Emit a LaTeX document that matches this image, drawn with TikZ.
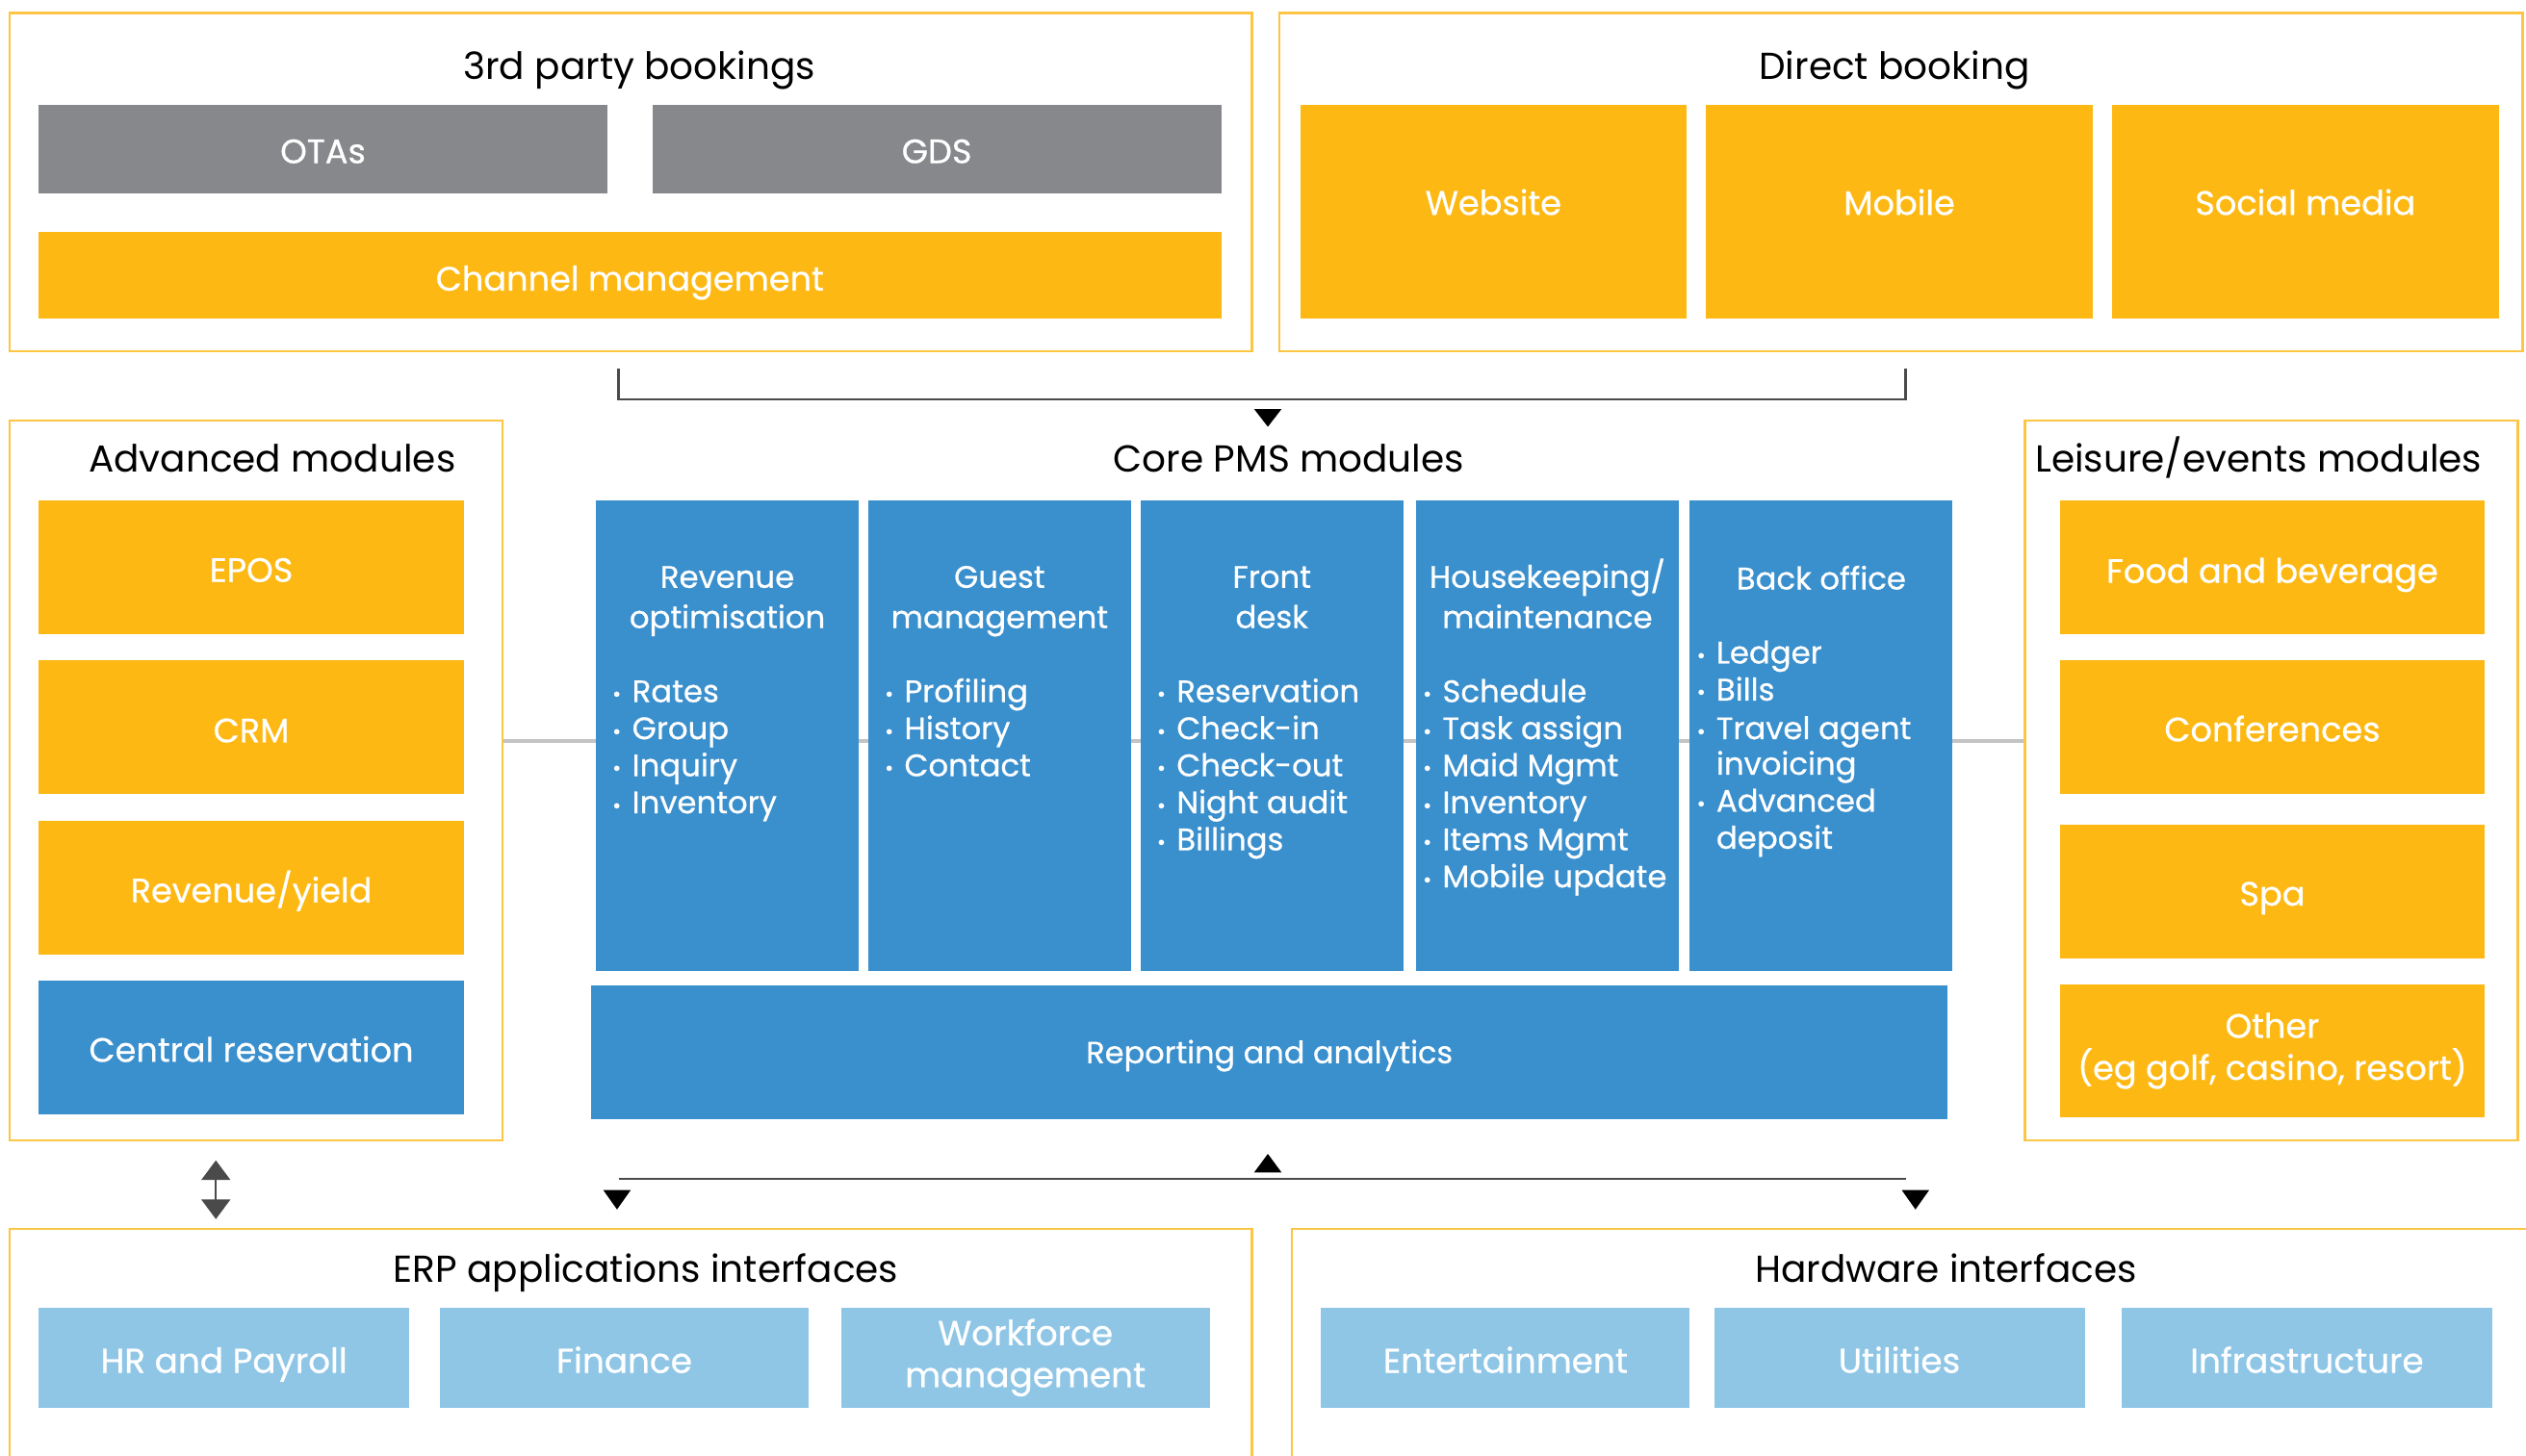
\documentclass[tikz,border=0pt]{standalone}
\usepackage{fontspec}
\setmainfont{Poppins}
\newfontfamily\medfont{Poppins}[FakeBold=0.6]
\usetikzlibrary{arrows.meta}
\definecolor{orng}{HTML}{FDB813}
\definecolor{gry}{HTML}{87888C}
\definecolor{blu}{HTML}{3A8FCD}
\definecolor{lblu}{HTML}{8FC6E6}
\definecolor{frm}{HTML}{FDC544}
\definecolor{connc}{HTML}{4A4A4A}
\definecolor{hlc}{HTML}{C4C4C4}
\newcommand\rbox[7]{%
  \pgfmathsetmacro\rw{(#5-#3)*0.016735}%
  \pgfmathsetmacro\rh{(#6-#4)*0.016735}%
  \node[#2, minimum width=\rw cm, minimum height=\rh cm] (#1) at ({(#3+#5)/2},{(#4+#6)/2}) {#7};}
\begin{document}
\begin{tikzpicture}[x=0.016735cm,y=-0.016735cm,
  grp/.style={draw=frm, line width=0.7pt, fill=white, inner sep=0pt},
  ttl/.style={font=\fontsize{11.1}{13}\selectfont, text=black, inner sep=0pt, anchor=base},
  lab/.style={inner sep=0pt, align=center, text=white, font=\medfont\fontsize{10}{12.4}\selectfont},
  sl/.style={text height=7pt, text depth=0pt},
  ob/.style={lab, sl, fill=orng},
  obm/.style={lab, fill=orng},
  gb/.style={lab, sl, fill=gry},
  bb/.style={lab, sl, fill=blu},
  lbx/.style={lab, fill=lblu, font=\medfont\fontsize{10.2}{12.4}\selectfont},
  lb/.style={lbx, sl},
  colbox/.style={fill=blu, inner sep=0pt},
  colhead/.style={text=white, inner sep=0pt, anchor=base, font=\medfont\fontsize{9.2}{12}\selectfont},
  item/.style={text=white, inner sep=0pt, anchor=base west, font=\medfont\fontsize{9.2}{12}\selectfont},
  bull/.style={text=white, inner sep=0pt, anchor=base, font=\fontsize{6.5}{6.5}\selectfont},
  conn/.style={draw=connc, line width=0.8pt},
  hl/.style={draw=hlc, line width=1pt},
  tri/.style={fill=black}
]
\useasboundingbox (0,0) rectangle (1568,904);
\clip (0,0) rectangle (1568,904);

% horizontal grey link line (behind everything)
\coordinate (hy) at (0,460);

% ---------- top groups ----------
\rbox{f3p}{grp}{6}{8}{777}{218}{}
\node[ttl] (t3p) at (397,49) {3rd party bookings};
\rbox{otas}{gb}{24}{65}{377}{120}{\raisebox{-0.7pt}{OTAs}}
\rbox{gds}{gb}{405}{65}{758}{120}{\raisebox{-0.7pt}{GDS}}
\rbox{chan}{ob}{24}{144}{758}{198}{\raisebox{-1pt}{Channel management}}

\rbox{fdir}{grp}{794}{8}{1566}{218}{}
\node[ttl] (tdir) at (1176,49) {Direct booking};
\rbox{web}{ob}{807}{65}{1047}{198}{\raisebox{2.6pt}{Website}}
\rbox{mob}{ob}{1059}{65}{1299}{198}{\raisebox{2.6pt}{Mobile}}
\rbox{soc}{ob}{1311}{65}{1551}{198}{\raisebox{2.6pt}{Social media}}

% top bracket connector
\coordinate (tl) at (384,229);
\coordinate (tr) at (1183,229);
\coordinate (tm) at (787,248);
\draw[conn] (tl) |- (tm) -| (tr);
\coordinate (ta) at (787,254);
\fill[tri, shift={(ta)}] (-8.5,0) -- (8.5,0) -- (0,11) -- cycle;

% ---------- side groups ----------
\rbox{fadv}{grp}{6}{261}{312}{708}{}
\rbox{flei}{grp}{1257}{261}{1563}{708}{}
\draw[hl] (fadv.east |- hy) -- (flei.west |- hy);

\node[ttl] (tadv) at (169,293) {Advanced modules};
\rbox{epos}{ob}{24}{311}{288}{394}{\raisebox{-0.7pt}{EPOS}}
\rbox{crm}{ob}{24}{410}{288}{493}{\raisebox{-1pt}{CRM}}
\rbox{ryield}{ob}{24}{510}{288}{593}{\raisebox{-0.7pt}{Revenue/yield}}
\rbox{cres}{bb}{24}{609}{288}{692}{\raisebox{-0.7pt}{Central reservation}}

\node[ttl] (tlei) at (1402,293) {Leisure/events modules};
\rbox{fb}{ob}{1279}{311}{1542}{394}{\raisebox{-1pt}{Food and beverage}}
\rbox{conf}{ob}{1279}{410}{1542}{493}{\raisebox{-0.7pt}{Conferences}}
\rbox{spa}{ob}{1279}{512}{1542}{595}{\raisebox{-0.7pt}{Spa}}
\rbox{oth}{obm}{1279}{611}{1542}{694}{Other\\(eg golf, casino, resort)}

% ---------- core PMS ----------
\node[ttl] (tcore) at (800,293) {Core PMS modules};
\rbox{crev}{colbox}{370}{311}{533}{603}{}
\rbox{cgst}{colbox}{539}{311}{702}{603}{}
\rbox{cfrt}{colbox}{708}{311}{871}{603}{}
\rbox{chk}{colbox}{879}{311}{1042}{603}{}
\rbox{cbo}{colbox}{1049}{311}{1212}{603}{}
\rbox{rep}{bb,text height=6.4pt}{367}{612}{1209}{695}{\fontsize{9.1}{12}\selectfont Reporting and analytics}

% column heads
\node[colhead] (hrev1) at (451.5,365) {Revenue};
\node[colhead] (hrev2) at (451.5,390) {optimisation};
\node[colhead] (hgst1) at (620.5,365) {Guest};
\node[colhead] (hgst2) at (620.5,390) {management};
\node[colhead] (hfrt1) at (789.5,365) {Front};
\node[colhead] (hfrt2) at (789.5,390) {desk};
\node[colhead] (hhk1) at (960.5,365) {Housekeeping/};
\node[colhead] (hhk2) at (960.5,390) {maintenance};
\node[colhead] (hbo1) at (1130.5,366) {Back office};

% bullet lists
\foreach \t [count=\i] in {Rates,Group,Inquiry,Inventory}{
  \node[bull] (rb\i) at (383,{413+23*\i}) {•};
  \node[item] (ri\i) at (392,{413+23*\i}) {\t};}
\foreach \t [count=\i] in {Profiling,History,Contact}{
  \node[bull] (gb\i) at (552,{413+23*\i}) {•};
  \node[item] (gi\i) at (561,{413+23*\i}) {\t};}
\foreach \t [count=\i] in {Reservation,Check-in,Check-out,Night audit,Billings}{
  \node[bull] (fb\i) at (721,{413+23*\i}) {•};
  \node[item] (fi\i) at (730,{413+23*\i}) {\t};}
\foreach \t [count=\i] in {Schedule,Task assign,Maid Mgmt,Inventory,Items Mgmt,Mobile update}{
  \node[bull] (kb\i) at (886,{413+23*\i}) {•};
  \node[item] (ki\i) at (895,{413+23*\i}) {\t};}
\node[bull] (bb1) at (1056,412) {•};
\node[item] (bi1) at (1065,412) {Ledger};
\node[bull] (bb2) at (1056,435) {•};
\node[item] (bi2) at (1065,435) {Bills};
\node[bull] (bb3) at (1056,459) {•};
\node[item] (bi3) at (1065,459) {Travel agent};
\node[item] (bi4) at (1065,481) {invoicing};
\node[bull] (bb5) at (1056,504) {•};
\node[item] (bi5) at (1065,504) {Advanced};
\node[item] (bi6) at (1065,527) {deposit};

% ---------- bottom connectors ----------
\coordinate (bl) at (384,732);
\coordinate (br) at (1183,732);
\draw[conn] (bl) -- (br);
\coordinate (ua) at (787,728);
\fill[tri, shift={(ua)}] (-8.5,0) -- (8.5,0) -- (0,-11.5) -- cycle;
\coordinate (dl) at (383,739);
\fill[tri, shift={(dl)}] (-8.5,0) -- (8.5,0) -- (0,12) -- cycle;
\coordinate (dr) at (1189,739);
\fill[tri, shift={(dr)}] (-8.5,0) -- (8.5,0) -- (0,12) -- cycle;

\coordinate (da) at (134,720.5);
\coordinate (db) at (134,757);
\draw[line width=0.6pt, draw=connc, {Triangle[width=8.5pt,length=5.8pt]}-{Triangle[width=8.5pt,length=5.8pt]}] (da) -- (db);

% ---------- bottom groups ----------
\rbox{ferp}{grp}{6}{763}{777}{930}{}
\node[ttl] (terp) at (401,796) {ERP applications interfaces};
\rbox{hr}{lb}{24}{812}{254}{874}{\raisebox{-1pt}{HR and Payroll}}
\rbox{fin}{lb}{273}{812}{502}{874}{\raisebox{-1pt}{Finance}}
\rbox{wf}{lbx}{522}{812}{751}{874}{Workforce\\management}

\rbox{fhw}{grp}{802}{763}{1580}{930}{}
\node[ttl] (thw) at (1208,796) {Hardware interfaces};
\rbox{ent}{lb}{820}{812}{1049}{874}{\raisebox{-1pt}{Entertainment}}
\rbox{util}{lb}{1064}{812}{1294}{874}{\raisebox{-1pt}{Utilities}}
\rbox{infra}{lb}{1317}{812}{1547}{874}{\raisebox{-1pt}{Infrastructure}}
\end{tikzpicture}
\end{document}
